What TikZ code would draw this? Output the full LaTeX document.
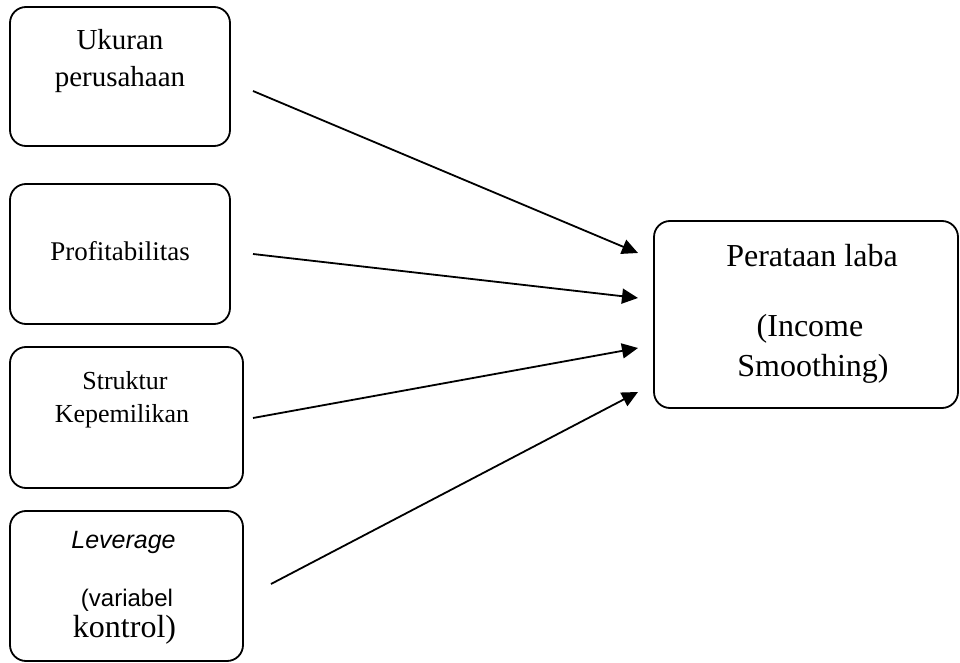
\documentclass[tikz,border=0pt]{standalone}
\usepackage{fontspec}
\setmainfont{Liberation Serif}
\newfontfamily\arialfont{Liberation Sans}
\usetikzlibrary{arrows.meta}

\tikzset{
  varbox/.style={draw, line width=0.9pt, rounded corners=8pt, inner sep=0pt},
  panah/.style={line width=0.9pt, -{Triangle[length=8pt,width=7.5pt]}},
  lbl/.style={anchor=base, inner sep=0pt},
}

\begin{document}
\begin{tikzpicture}[x=0.5pt,y=-0.5pt]
  \useasboundingbox (0,0) rectangle (960,663);

  % kotak variabel
  \node[varbox, minimum width=110pt, minimum height=69.5pt] (ukuran) at (120,76.5) {};
  \node[varbox, minimum width=110pt, minimum height=70pt] (profit) at (120,254) {};
  \node[varbox, minimum width=116.5pt, minimum height=70.5pt] (struktur) at (126.5,417.5) {};
  \node[varbox, minimum width=116.5pt, minimum height=75pt] (leverage) at (126.5,586) {};
  \node[varbox, minimum width=152pt, minimum height=93.5pt] (laba) at (806,314.5) {};

  \node[lbl, font=\fontsize{14.5}{17}\selectfont] (t1a) at (120,50) {Ukuran};
  \node[lbl, font=\fontsize{14.5}{17}\selectfont] (t1b) at (120,87) {perusahaan};
  \node[lbl, font=\fontsize{13.5}{16}\selectfont] (t2) at (120,261) {Profitabilitas};
  \node[lbl, font=\fontsize{13}{15}\selectfont] (t3a) at (125,390) {Struktur};
  \node[lbl, font=\fontsize{13}{15}\selectfont] (t3b) at (122,423) {Kepemilikan};
  \node[lbl, font=\arialfont\itshape\fontsize{12.5}{14}\selectfont] (t4a) at (123.5,549) {Leverage};
  \node[lbl, font=\arialfont\fontsize{12}{14}\selectfont] (t4b) at (127,607) {(variabel};
  \node[lbl, font=\fontsize{16}{19}\selectfont] (t4c) at (124.5,638) {kontrol)};
  \node[lbl, font=\fontsize{16}{19}\selectfont] (t5a) at (812,267) {Perataan laba};
  \node[lbl, font=\fontsize{16}{19}\selectfont] (t5b) at (810,337) {(Income};
  \node[lbl, font=\fontsize{16}{19}\selectfont] (t5c) at (813,377) {Smoothing)};

  % panah
  \coordinate (a1) at (253,91);  \coordinate (b1) at (638,253);
  \coordinate (a2) at (253,254); \coordinate (b2) at (638,298);
  \coordinate (a3) at (253,418); \coordinate (b3) at (638,348);
  \coordinate (a4) at (271,584); \coordinate (b4) at (638,392);
  \draw[panah] (a1) -- (b1);
  \draw[panah] (a2) -- (b2);
  \draw[panah] (a3) -- (b3);
  \draw[panah] (a4) -- (b4);

\end{tikzpicture}
\end{document}
